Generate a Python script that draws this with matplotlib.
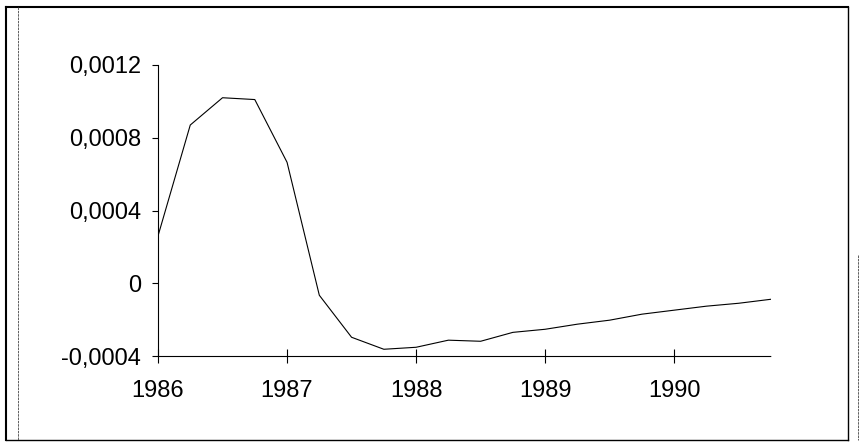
import matplotlib
matplotlib.use('Agg')
import matplotlib.pyplot as plt
from matplotlib.lines import Line2D

# quarterly series, 1986Q1 .. 1990Q4
years = [1986.0, 1986.25, 1986.5, 1986.75,
         1987.0, 1987.25, 1987.5, 1987.75,
         1988.0, 1988.25, 1988.5, 1988.75,
         1989.0, 1989.25, 1989.5, 1989.75,
         1990.0, 1990.25, 1990.5, 1990.75]
values = [0.00026, 0.00087, 0.00102, 0.00101,
          0.000665, -0.000066, -0.000297, -0.000363,
          -0.000352, -0.000313, -0.000319, -0.00027,
          -0.000253, -0.000225, -0.000203, -0.00017,
          -0.000148, -0.000126, -0.00011, -0.000088]

x_ticks = [1986, 1987, 1988, 1989, 1990]
y_ticks = [0.0012, 0.0008, 0.0004, 0, -0.0004]
y_labels = ['0,0012', '0,0008', '0,0004', '0', '-0,0004']

plt.rcParams['font.family'] = ['Liberation Sans', 'DejaVu Sans']

fig = plt.figure(figsize=(8.6, 4.42), dpi=100)
ax = fig.add_axes([158/860, 1-356/442, (771-158)/860, (356-65)/442])

ax.plot(years, values, color='black', linewidth=0.8)

ax.set_xlim(1986, 1990.75)
ax.set_ylim(-0.0004, 0.0012)
ax.set_xticks(x_ticks)
ax.set_xticklabels([str(y) for y in x_ticks])
ax.set_yticks(y_ticks)
ax.set_yticklabels(y_labels)

for s in ['top', 'right']:
    ax.spines[s].set_visible(False)
ax.spines['left'].set_linewidth(0.8)
ax.spines['bottom'].set_linewidth(0.8)
ax.spines['bottom'].set_linestyle((0, (2, 1)))

ax.tick_params(axis='x', direction='inout', length=10, width=0.8, pad=12, labelsize=17)
ax.tick_params(axis='y', direction='out', length=4, width=0.8, pad=8, labelsize=17)

# scanned frame around the chart
def fline(x0, y0, x1, y1, lw=1.0, ls='-', c='black'):
    fig.add_artist(Line2D([x0/860, x1/860], [1-y0/442, 1-y1/442],
                          transform=fig.transFigure, color=c, linewidth=lw, linestyle=ls))

fline(6, 7, 848, 7, lw=1.5)
fline(6, 7, 6, 440, lw=1.5)
fline(6, 440, 848, 440, lw=1.0)
fline(848, 7, 848, 440, lw=1.0)
fline(18, 7, 18, 440, lw=0.6, ls=(0, (3, 1)), c='#444444')
fline(858, 255, 858, 440, lw=0.6, ls=(0, (3, 1)), c='#444444')

fig.savefig('out.png', dpi=100)
